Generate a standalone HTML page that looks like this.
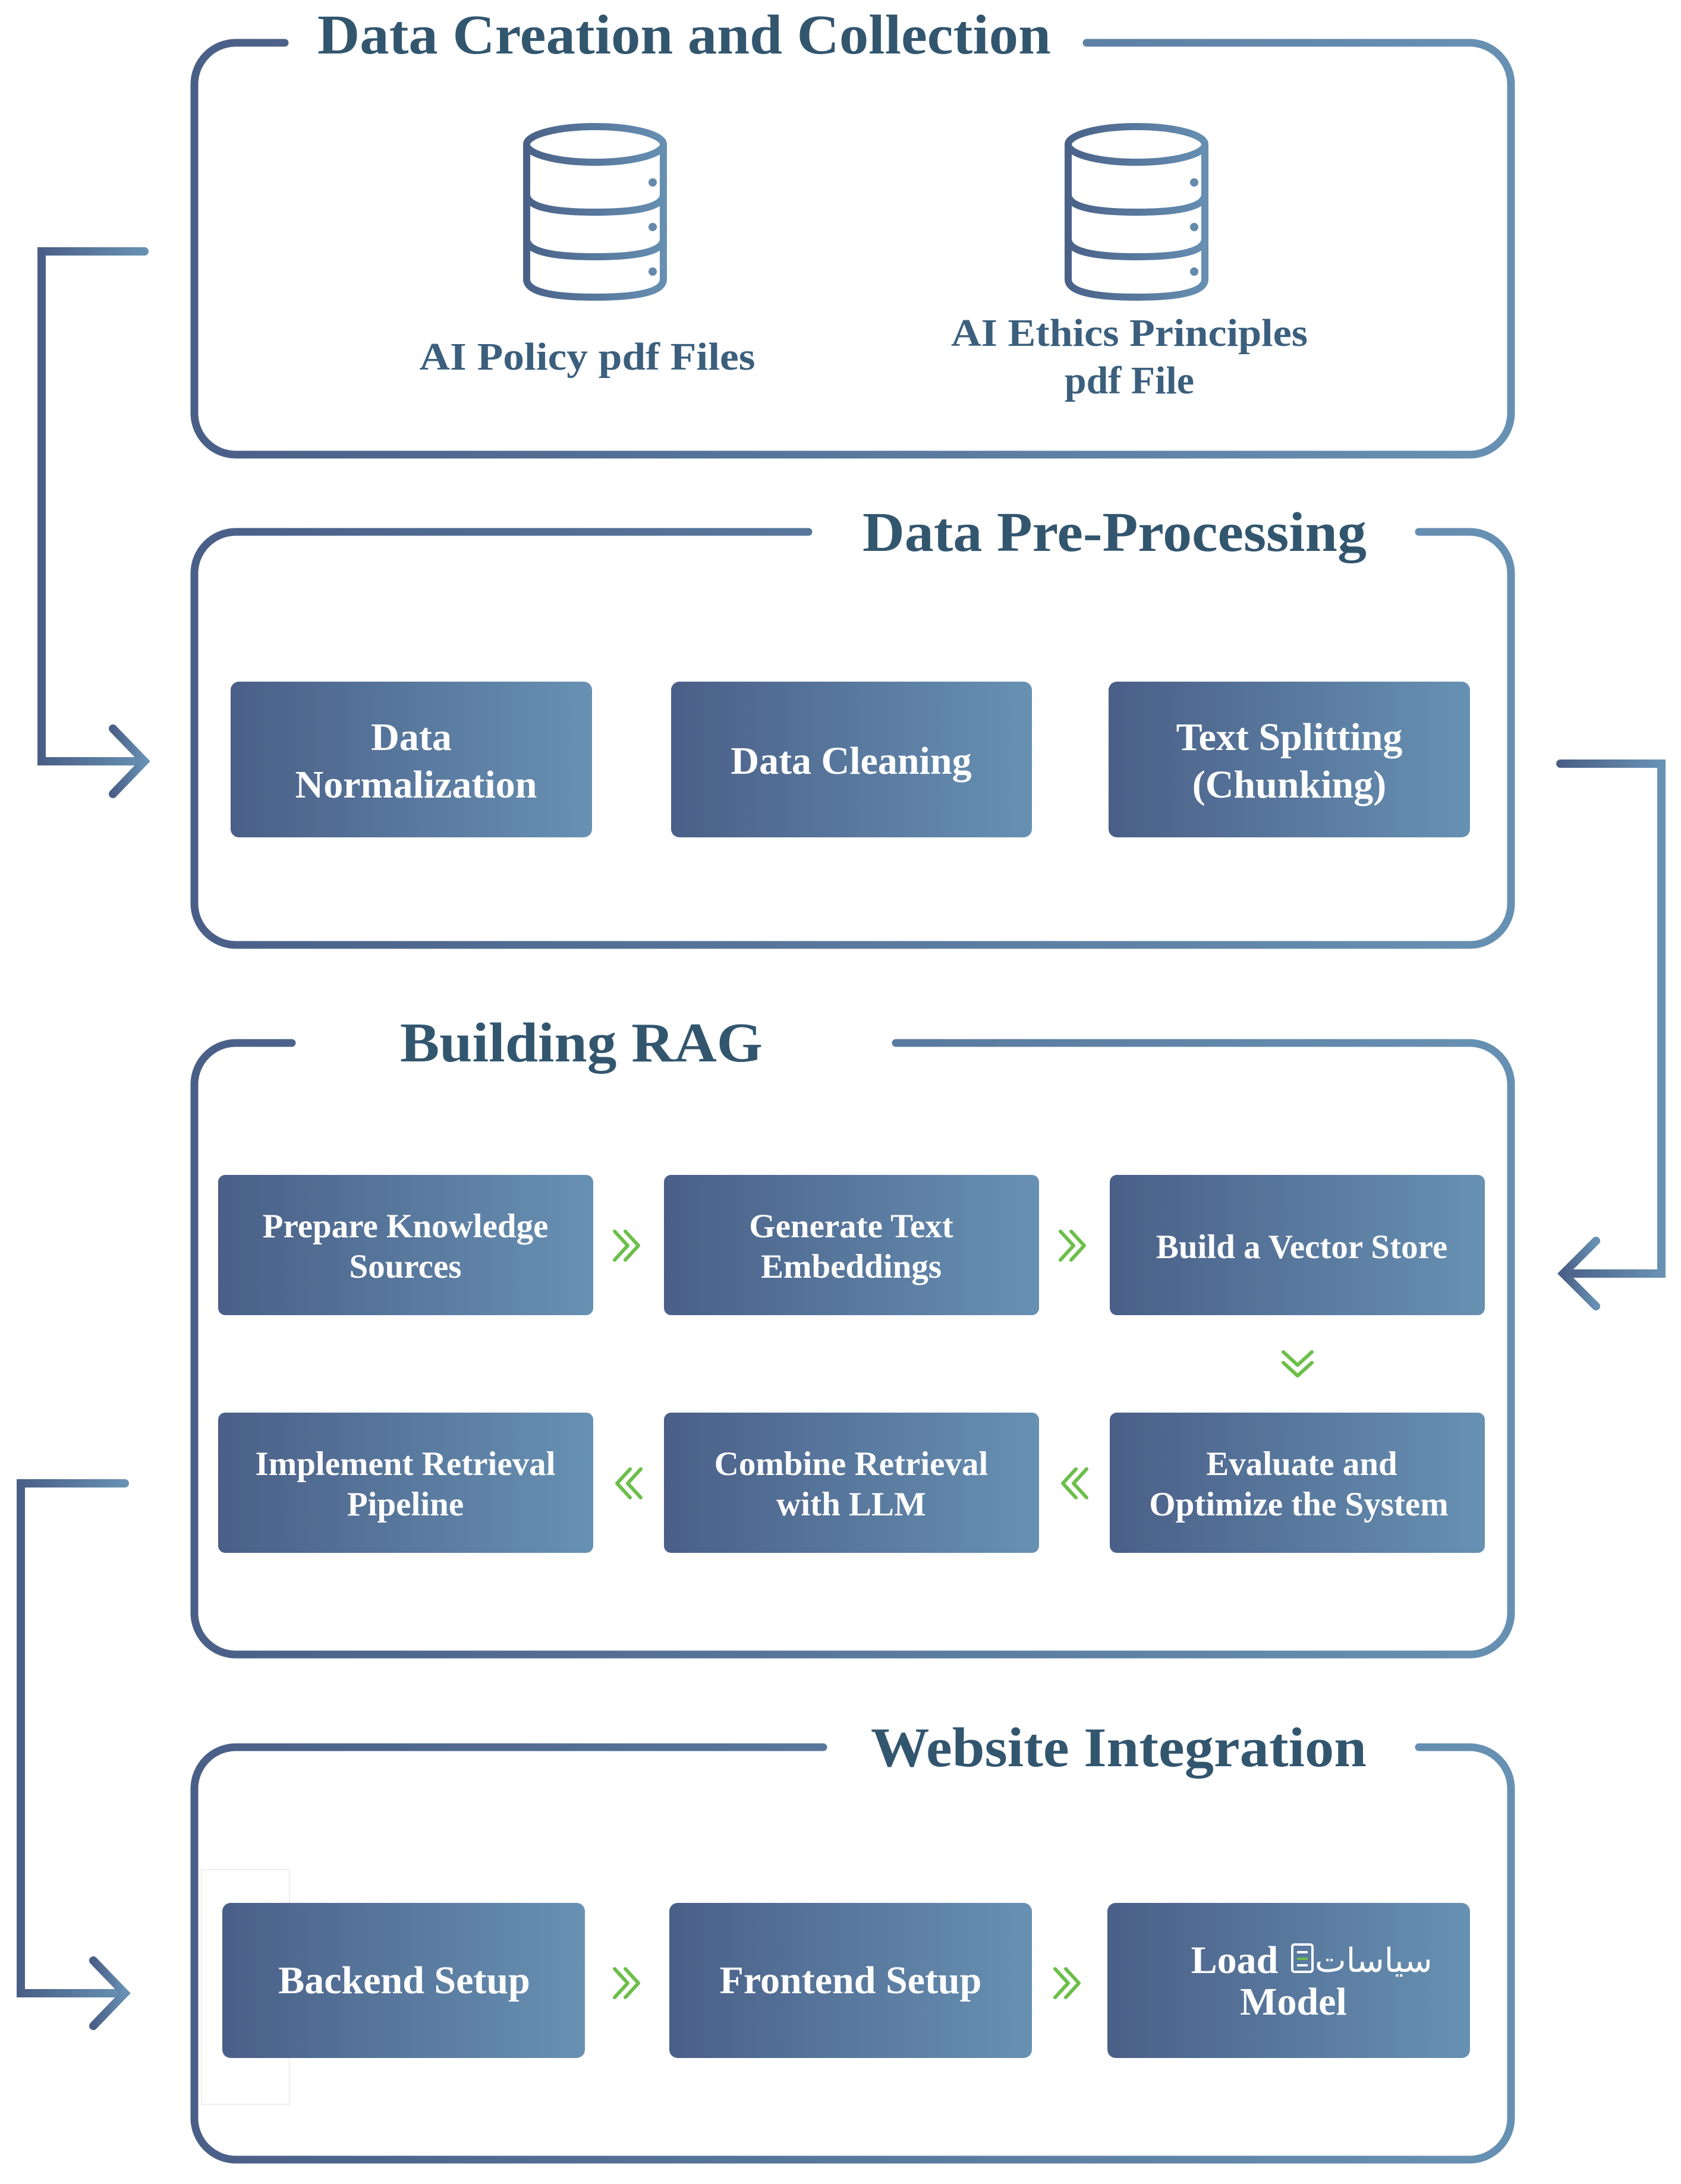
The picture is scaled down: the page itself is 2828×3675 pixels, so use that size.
<!DOCTYPE html>
<html><head><meta charset="utf-8"><style>
html,body{margin:0;padding:0;background:#fff;}
svg{display:block;}
</style></head><body>
<svg width="2828" height="3675" viewBox="0 0 2828 3675" xmlns="http://www.w3.org/2000/svg">
<defs>
<linearGradient id="g" x1="0" x2="1" y1="0" y2="0"><stop offset="0" stop-color="#4a5f87"/><stop offset="1" stop-color="#6791b3"/></linearGradient>
<linearGradient id="gs" gradientUnits="userSpaceOnUse" x1="325" x2="2545" y1="0" y2="0"><stop offset="0" stop-color="#4a5f87"/><stop offset="1" stop-color="#6791b3"/></linearGradient>
<linearGradient id="gi" x1="0" x2="1" y1="0" y2="0"><stop offset="0" stop-color="#4a6288"/><stop offset="1" stop-color="#668fb2"/></linearGradient>
<g id="db" fill="none" stroke="url(#gi)" stroke-width="12">
  <ellipse cx="121" cy="36" rx="115" ry="30"/>
  <path d="M6,36 V263 Q6,293 121,293 Q236,293 236,263 V36"/>
  <path d="M6,120 Q6,150 121,150 Q236,150 236,120"/>
  <path d="M6,195 Q6,225 121,225 Q236,225 236,195"/>
  <circle cx="218" cy="100" r="7" fill="#6589ab" stroke="none"/>
  <circle cx="218" cy="175" r="7" fill="#6589ab" stroke="none"/>
  <circle cx="218" cy="250" r="7" fill="#6589ab" stroke="none"/>
</g>
<g id="chr" fill="none" stroke="#6cbf4a" stroke-width="6" stroke-linecap="round" stroke-linejoin="round">
  <path d="M-22,-24 L0,0 L-22,24 M-4,-24 L18,0 L-4,24"/>
</g>
</defs>

<g fill="none" stroke="url(#gs)" stroke-width="13" stroke-linecap="round">
<path d="M1828,72 H2474 A70,70 0 0 1 2542,140 V697 A70,70 0 0 1 2474,765 H395 A70,70 0 0 1 327,697 V140 A70,70 0 0 1 395,72 H479"/>
<path d="M2387,895 H2474 A70,70 0 0 1 2542,963 V1522 A70,70 0 0 1 2474,1590 H395 A70,70 0 0 1 327,1522 V963 A70,70 0 0 1 395,895 H1360"/>
<path d="M1507,1755 H2474 A70,70 0 0 1 2542,1823 V2716 A70,70 0 0 1 2474,2784 H395 A70,70 0 0 1 327,2716 V1823 A70,70 0 0 1 395,1755 H491"/>
<path d="M2387,2940 H2474 A70,70 0 0 1 2542,3008 V3566 A70,70 0 0 1 2474,3634 H395 A70,70 0 0 1 327,3566 V3008 A70,70 0 0 1 395,2940 H1385"/>
</g>

<g fill="none" stroke="url(#g)" stroke-width="14" stroke-linecap="round" stroke-linejoin="miter">
<path d="M243,423 H70 V1281 H240"/>
<path d="M190,1226 L243,1281 L190,1336"/>
<path d="M2625,1285 H2795 V2143 H2630"/>
<path d="M2685,2088 L2630,2143 L2685,2198"/>
<path d="M210,2496 H35 V3354 H205"/>
<path d="M157,3299 L210,3354 L157,3409"/>
</g>

<g font-family="'Liberation Serif', serif" font-weight="bold" fill="#33566f">
<text x="534" y="90" font-size="94" textLength="1234" lengthAdjust="spacingAndGlyphs">Data Creation and Collection</text>
<text x="1451" y="927" font-size="94" textLength="848" lengthAdjust="spacingAndGlyphs">Data Pre-Processing</text>
<text x="673" y="1786" font-size="94" textLength="610" lengthAdjust="spacingAndGlyphs">Building RAG</text>
<text x="1465" y="2972" font-size="94" textLength="834" lengthAdjust="spacingAndGlyphs">Website Integration</text>
</g>

<use href="#db" x="880" y="207"/>
<use href="#db" x="1791" y="207"/>
<g font-family="'Liberation Serif', serif" font-weight="bold" fill="#3b5f7d" font-size="66" text-anchor="middle">
<text x="988" y="622" textLength="565" lengthAdjust="spacingAndGlyphs">AI Policy pdf Files</text>
<text x="1900" y="582" textLength="600" lengthAdjust="spacingAndGlyphs">AI Ethics Principles</text>
<text x="1900" y="662">pdf File</text>
</g>

<rect x="339" y="3146" width="148" height="395" fill="none" stroke="#eeeeee" stroke-width="2"/>
<g fill="url(#g)">
<rect x="388" y="1147" width="608" height="262" rx="14"/>
<rect x="1129" y="1147" width="607" height="262" rx="14"/>
<rect x="1865" y="1147" width="608" height="262" rx="14"/>
<rect x="367" y="1977" width="631" height="236" rx="12"/>
<rect x="1117" y="1977" width="631" height="236" rx="12"/>
<rect x="1867" y="1977" width="631" height="236" rx="12"/>
<rect x="367" y="2377" width="631" height="236" rx="12"/>
<rect x="1117" y="2377" width="631" height="236" rx="12"/>
<rect x="1867" y="2377" width="631" height="236" rx="12"/>
<rect x="374" y="3202" width="610" height="261" rx="14"/>
<rect x="1126" y="3202" width="610" height="261" rx="14"/>
<rect x="1863" y="3202" width="610" height="261" rx="14"/>
</g>

<g font-family="'Liberation Serif', serif" font-weight="bold" fill="#fff" text-anchor="middle" font-size="66">
<text x="692" y="1262">Data</text>
<text x="700" y="1342">Normalization</text>
<text x="1432" y="1302">Data Cleaning</text>
<text x="2169" y="1262">Text Splitting</text>
<text x="2169" y="1342">(Chunking)</text>
</g>
<g font-family="'Liberation Serif', serif" font-weight="bold" fill="#fff" text-anchor="middle" font-size="57">
<text x="682" y="2082">Prepare Knowledge</text>
<text x="682" y="2150">Sources</text>
<text x="1432" y="2082">Generate Text</text>
<text x="1432" y="2150">Embeddings</text>
<text x="2190" y="2117">Build a Vector Store</text>
<text x="682" y="2482">Implement Retrieval</text>
<text x="682" y="2550">Pipeline</text>
<text x="1432" y="2482">Combine Retrieval</text>
<text x="1432" y="2550">with LLM</text>
<text x="2190" y="2482">Evaluate and</text>
<text x="2185" y="2550">Optimize the System</text>
</g>
<g font-family="'Liberation Serif', serif" font-weight="bold" fill="#fff" text-anchor="middle" font-size="66">
<text x="680" y="3354">Backend Setup</text>
<text x="1431" y="3354">Frontend Setup</text>
<text x="2077" y="3320">Load</text>
<text x="2176" y="3390">Model</text>
</g>
<g>
<rect x="2174" y="3272" width="34" height="46" rx="4" fill="none" stroke="#fff" stroke-width="4"/>
<line x1="2182" y1="3285" x2="2200" y2="3285" stroke="#fff" stroke-width="4"/>
<line x1="2182" y1="3296" x2="2200" y2="3296" stroke="#6cbf4a" stroke-width="4"/>
<line x1="2182" y1="3307" x2="2200" y2="3307" stroke="#fff" stroke-width="4"/>
<text x="2212" y="3318" font-family="'DejaVu Sans', sans-serif" font-size="56" fill="#fff">سياسات</text>
</g>

<use href="#chr" x="1056" y="2096"/>
<use href="#chr" x="1806" y="2096"/>
<use href="#chr" transform="translate(2183,2297) rotate(90)"/>
<use href="#chr" transform="translate(1056,2496) rotate(180)"/>
<use href="#chr" transform="translate(1806,2496) rotate(180)"/>
<use href="#chr" x="1056" y="3337"/>
<use href="#chr" x="1797" y="3337"/>
</svg>
</body></html>
